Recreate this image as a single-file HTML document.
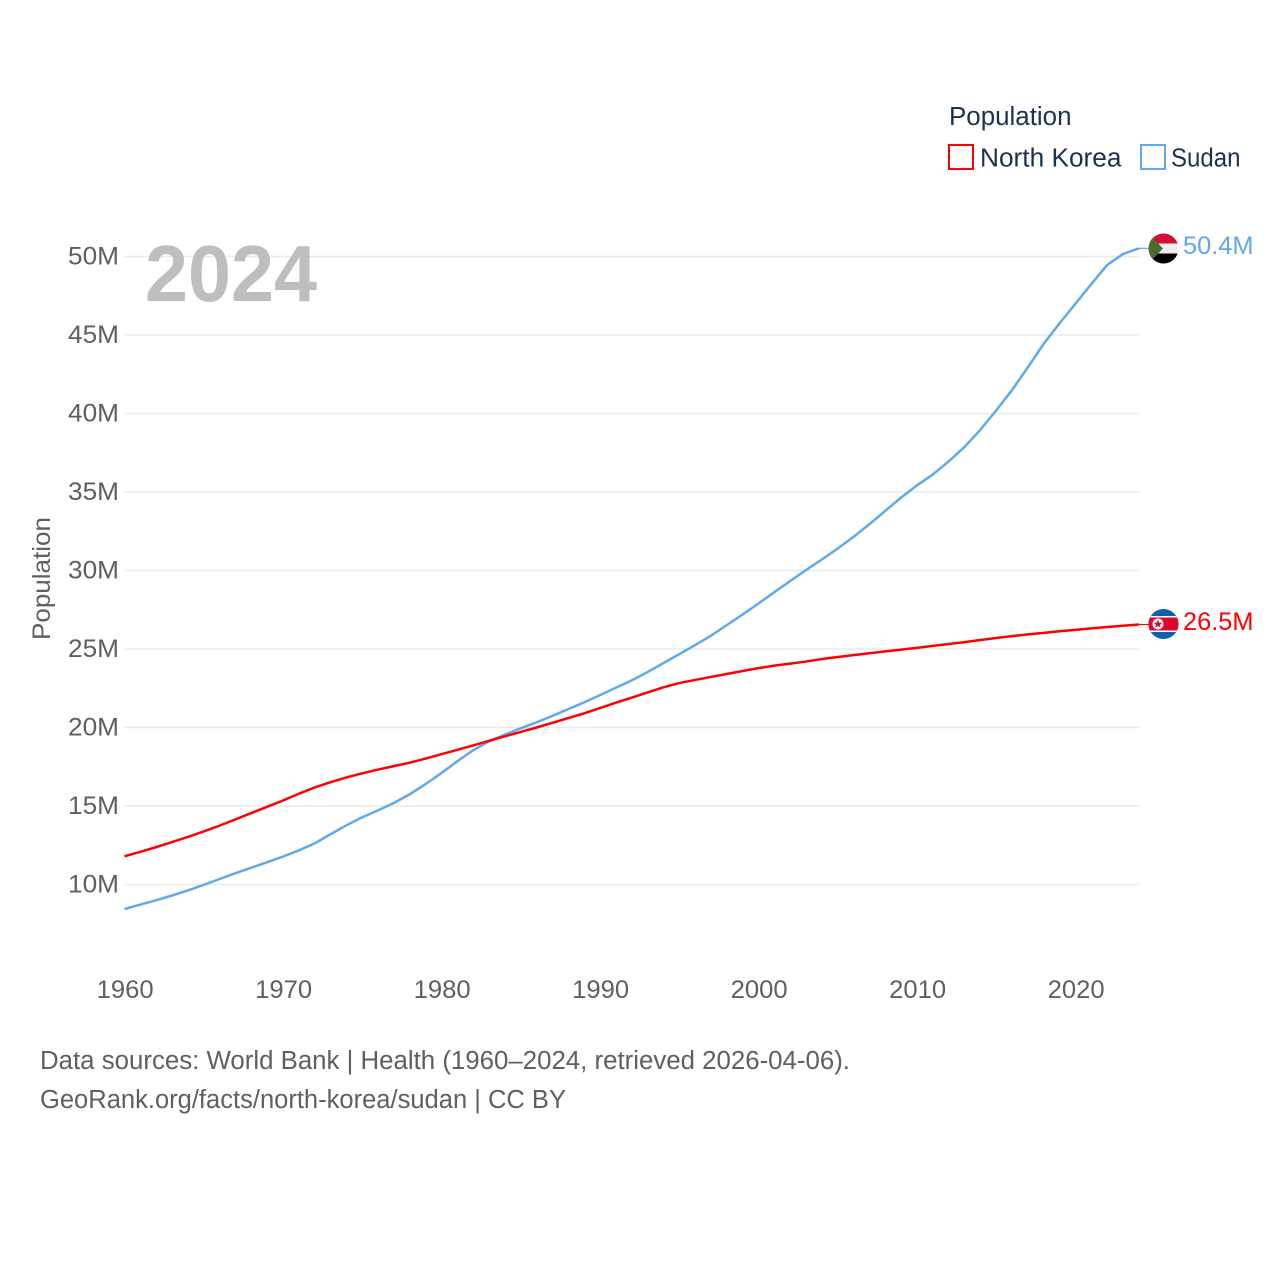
<!DOCTYPE html>
<html lang="en">
<head>
<meta charset="utf-8">
<title>North Korea and Sudan population</title>
<style>
html,body{margin:0;padding:0;background:#fff;}
svg{display:block;font-family:"Liberation Sans",sans-serif;}
</style>
</head>
<body>
<svg id="chart" width="1280" height="1280" viewBox="0 0 1280 1280" xmlns="http://www.w3.org/2000/svg">
  <defs>
    <clipPath id="flag-clip-sudan"><circle cx="1163.5" cy="248.5" r="15"/></clipPath>
    <clipPath id="flag-clip-nk"><circle cx="1163.5" cy="624" r="15"/></clipPath>
  </defs>
  <g id="grid"></g>
  <text x="145" y="301" font-size="80" font-weight="bold" fill="#b8b8b8" fill-opacity="0.92" textLength="172" lengthAdjust="spacingAndGlyphs">2024</text>
  <g id="y-ticks"></g>
  <g id="x-ticks"></g>
  <text transform="translate(50,640) rotate(-90)" font-size="25" fill="#5f5f5f" textLength="123" lengthAdjust="spacingAndGlyphs">Population</text>
  <g id="series"></g>

  <g clip-path="url(#flag-clip-sudan)">
    <rect x="1148" y="233" width="31" height="10.5" fill="#d21034"/>
    <rect x="1148" y="243.5" width="31" height="10" fill="#eeeeee"/>
    <rect x="1148" y="253.5" width="31" height="11" fill="#000000"/>
    <polygon points="1148,233 1163,248.5 1148,264" fill="#4a6b2a"/>
  </g>
  <g clip-path="url(#flag-clip-nk)">
    <rect x="1148" y="608" width="31" height="32" fill="#0f5fb5"/>
    <rect x="1148" y="616" width="31" height="1.5" fill="#ffffff"/>
    <rect x="1148" y="617.5" width="31" height="13" fill="#e0062f"/>
    <rect x="1148" y="630.5" width="31" height="1.5" fill="#ffffff"/>
    <circle cx="1158" cy="624" r="5.5" fill="#ffffff"/>
    <polygon points="1158,619.5 1159.2,622.6 1162.4,622.7 1159.9,624.7 1160.8,627.8 1158,626 1155.2,627.8 1156.1,624.7 1153.6,622.7 1156.8,622.6" fill="#e0062f"/>
  </g>

  <text x="1183" y="254" font-size="25" fill="#5ea9ee" textLength="70.5" lengthAdjust="spacingAndGlyphs">50.4M</text>
  <text x="1183" y="630" font-size="25" fill="#ff0000" textLength="70.5" lengthAdjust="spacingAndGlyphs">26.5M</text>

  <g>
    <text x="949" y="125" font-size="25.5" fill="#1c3150" textLength="122.5" lengthAdjust="spacingAndGlyphs">Population</text>
    <g>
      <rect x="949" y="145" width="24" height="24" fill="none" stroke="#ff0000" stroke-width="2"/>
      <text x="980" y="166.5" font-size="25.5" fill="#1c3150" textLength="141.5" lengthAdjust="spacingAndGlyphs">North Korea</text>
    </g>
    <g>
      <rect x="1141" y="145" width="24" height="24" fill="none" stroke="#5ea9ee" stroke-width="2"/>
      <text x="1171" y="166.5" font-size="25.5" fill="#1c3150" textLength="69.5" lengthAdjust="spacingAndGlyphs">Sudan</text>
    </g>
  </g>

  <text x="40" y="1069" font-size="25.5" fill="#5f5f5f" textLength="810" lengthAdjust="spacingAndGlyphs">Data sources: World Bank | Health (1960–2024, retrieved 2026-04-06).</text>
  <text x="40" y="1108" font-size="25.5" fill="#5f5f5f" textLength="526" lengthAdjust="spacingAndGlyphs">GeoRank.org/facts/north-korea/sudan | CC BY</text>
</svg>
<script>
const years = [1960,1961,1962,1963,1964,1965,1966,1967,1968,1969,
  1970,1971,1972,1973,1974,1975,1976,1977,1978,1979,
  1980,1981,1982,1983,1984,1985,1986,1987,1988,1989,
  1990,1991,1992,1993,1994,1995,1996,1997,1998,1999,
  2000,2001,2002,2003,2004,2005,2006,2007,2008,2009,
  2010,2011,2012,2013,2014,2015,2016,2017,2018,2019,
  2020,2021,2022,2023,2024];
const northKorea = [11.8,12.08,12.38,12.7,13.03,13.38,13.75,14.15,14.55,14.95,
  15.35,15.78,16.18,16.52,16.82,17.08,17.32,17.54,17.76,18.02,
  18.3,18.58,18.86,19.15,19.44,19.72,20.0,20.3,20.6,20.9,
  21.24,21.58,21.9,22.23,22.56,22.83,23.03,23.22,23.41,23.6,
  23.78,23.94,24.07,24.2,24.36,24.49,24.61,24.73,24.85,24.96,
  25.07,25.2,25.32,25.44,25.57,25.7,25.82,25.93,26.03,26.13,
  26.22,26.31,26.4,26.48,26.56];
const sudan = [8.44,8.72,9.0,9.3,9.62,9.98,10.35,10.72,11.07,11.42,
  11.78,12.17,12.62,13.2,13.77,14.28,14.72,15.2,15.75,16.4,
  17.1,17.85,18.55,19.12,19.55,19.95,20.33,20.74,21.17,21.6,
  22.06,22.53,23.0,23.53,24.1,24.67,25.25,25.85,26.52,27.2,
  27.9,28.62,29.33,30.03,30.7,31.4,32.15,32.95,33.8,34.65,
  35.42,36.12,36.95,37.87,38.97,40.2,41.5,42.95,44.45,45.75,
  47.0,48.25,49.46,50.16,50.52];
const yTickValues = [10,15,20,25,30,35,40,45,50];
const yTickLabels = ["10M","15M","20M","25M","30M","35M","40M","45M","50M"];
const xTickValues = [1960,1970,1980,1990,2000,2010,2020];
const xTickLabels = ["1960","1970","1980","1990","2000","2010","2020"];

const SVG_NS = "http://www.w3.org/2000/svg";
const xScale = function (year) { return 124.5 + (year - 1960) * 15.85; };
const yScale = function (value) { return 884.5 - (value - 10) * 15.7; };
const PLOT_RIGHT = xScale(2024);

const gridGroup = document.getElementById("grid");
const yGroup = document.getElementById("y-ticks");
const xGroup = document.getElementById("x-ticks");
const seriesGroup = document.getElementById("series");

yTickValues.forEach(function (v, i) {
  const line = document.createElementNS(SVG_NS, "line");
  
  
  line.setAttribute("x1", 124.5);
  line.setAttribute("x2", PLOT_RIGHT);
  line.setAttribute("y1", yScale(v));
  line.setAttribute("y2", yScale(v));
  line.setAttribute("stroke", "#ebebeb");
  line.setAttribute("stroke-width", 1.5);
  gridGroup.appendChild(line);

  const label = document.createElementNS(SVG_NS, "text");
  
  
  label.setAttribute("x", 119);
  label.setAttribute("y", yScale(v) + 8);
  label.setAttribute("text-anchor", "end");
  label.setAttribute("font-size", 25);
  label.setAttribute("fill", "#5f5f5f");
  label.setAttribute("textLength", 51);
  label.setAttribute("lengthAdjust", "spacingAndGlyphs");
  label.textContent = yTickLabels[i];
  yGroup.appendChild(label);
});

xTickValues.forEach(function (v, i) {
  const label = document.createElementNS(SVG_NS, "text");
  
  
  label.setAttribute("x", xScale(v) + 0.7);
  label.setAttribute("y", 998);
  label.setAttribute("text-anchor", "middle");
  label.setAttribute("font-size", 25);
  label.setAttribute("fill", "#5f5f5f");
  label.setAttribute("textLength", 57);
  label.setAttribute("lengthAdjust", "spacingAndGlyphs");
  label.textContent = xTickLabels[i];
  xGroup.appendChild(label);
});

function buildPoints(values) {
  return values.map(function (v, i) {
    return xScale(years[i]).toFixed(2) + "," + yScale(v).toFixed(2);
  }).join(" ");
}

const sudanLine = document.createElementNS(SVG_NS, "polyline");


sudanLine.setAttribute("points", buildPoints(sudan));
sudanLine.setAttribute("fill", "none");
sudanLine.setAttribute("stroke", "#5ea9ee");
sudanLine.setAttribute("stroke-width", 2.5);
sudanLine.setAttribute("stroke-linejoin", "round");
seriesGroup.appendChild(sudanLine);

const koreaLine = document.createElementNS(SVG_NS, "polyline");


koreaLine.setAttribute("points", buildPoints(northKorea));
koreaLine.setAttribute("fill", "none");
koreaLine.setAttribute("stroke", "#ff0000");
koreaLine.setAttribute("stroke-width", 2.5);
koreaLine.setAttribute("stroke-linejoin", "round");
seriesGroup.appendChild(koreaLine);

const sudanConnector = document.createElementNS(SVG_NS, "line");


sudanConnector.setAttribute("x1", PLOT_RIGHT);
sudanConnector.setAttribute("x2", 1149);
sudanConnector.setAttribute("y1", yScale(sudan[sudan.length - 1]));
sudanConnector.setAttribute("y2", yScale(sudan[sudan.length - 1]));
sudanConnector.setAttribute("stroke", "#5ea9ee");
sudanConnector.setAttribute("stroke-width", 1.2);
seriesGroup.appendChild(sudanConnector);

const koreaConnector = document.createElementNS(SVG_NS, "line");


koreaConnector.setAttribute("x1", PLOT_RIGHT);
koreaConnector.setAttribute("x2", 1149);
koreaConnector.setAttribute("y1", yScale(northKorea[northKorea.length - 1]));
koreaConnector.setAttribute("y2", yScale(northKorea[northKorea.length - 1]));
koreaConnector.setAttribute("stroke", "#ff0000");
koreaConnector.setAttribute("stroke-width", 1.2);
seriesGroup.appendChild(koreaConnector);
</script>
</body>
</html>
